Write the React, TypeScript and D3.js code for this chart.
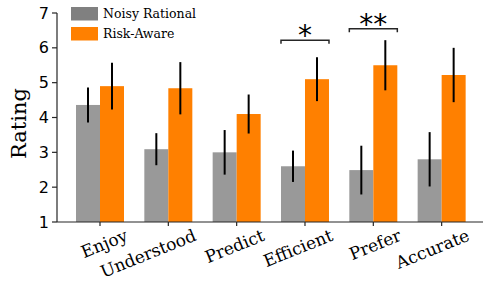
import React from "react";
import * as d3 from "d3";

const categories = ["Enjoy", "Understood", "Predict", "Efficient", "Prefer", "Accurate"];
const seriesNames = ["Noisy Rational", "Risk-Aware"];
const noisyMeans = [4.36, 3.09, 3.0, 2.6, 2.49, 2.8];
const noisyErr = [0.5, 0.46, 0.64, 0.45, 0.7, 0.78];
const riskMeans = [4.9, 4.84, 4.1, 5.1, 5.5, 5.22];
const riskErr = [0.67, 0.75, 0.56, 0.63, 0.72, 0.78];
const yTicks = [1, 2, 3, 4, 5, 6, 7];
const sigCats = ["Efficient", "Prefer"];
const sigLabels = ["*", "**"];
const sigLevels = [6.22, 6.55];

const W = 483;
const H = 288;
const colors = ["#999999", "#ff8000"];
const legendColors = ["#808080", "#ff8000"];
const serif = "'DejaVu Serif', serif";
const sans = "'DejaVu Sans', sans-serif";

export default function App() {
  const left = 57;
  const y = d3.scaleLinear().domain([1, 7]).range([222, 13]);
  const step = 68.33;
  const x = d3
    .scaleBand<string>()
    .domain(categories)
    .range([100 - step / 2, 100 - step / 2 + step * categories.length])
    .padding(0);
  const barW = 24;
  const series = [
    { means: noisyMeans, err: noisyErr },
    { means: riskMeans, err: riskErr },
  ];
  const axisColor = "#262626";

  return (
    <svg
      width={W}
      height={H}
      style={{ position: "absolute", left: 0, top: 0, background: "#fff" }}
    >
      {/* bars */}
      {series.map((s, si) =>
        categories.map((c, i) => {
          const cx = x(c)! + x.bandwidth() / 2;
          const bx = si === 0 ? cx - barW : cx;
          return (
            <g key={`${si}-${i}`}>
              <rect
                x={bx}
                y={y(s.means[i])}
                width={barW}
                height={y(1) - y(s.means[i])}
                fill={colors[si]}
              />
              <line
                x1={bx + barW / 2}
                x2={bx + barW / 2}
                y1={y(s.means[i] + s.err[i])}
                y2={y(s.means[i] - s.err[i])}
                stroke="#000"
                strokeWidth={2}
              />
            </g>
          );
        })
      )}

      {/* axes */}
      <line x1={left} x2={left} y1={y(7)} y2={y(1)} stroke={axisColor} strokeWidth={1.2} />
      <line x1={left} x2={W} y1={y(1)} y2={y(1)} stroke={axisColor} strokeWidth={1.2} />
      {yTicks.map((t) => (
        <g key={t}>
          <line x1={left - 5} x2={left} y1={y(t)} y2={y(t)} stroke={axisColor} strokeWidth={1.2} />
          <text
            x={left - 8}
            y={y(t)}
            textAnchor="end"
            dominantBaseline="central"
            fontFamily={sans}
            fontSize={16}
            fill="#000"
          >
            {t}
          </text>
        </g>
      ))}
      {categories.map((c) => {
        const cx = x(c)! + x.bandwidth() / 2;
        return (
          <g key={c}>
            <line x1={cx} x2={cx} y1={y(1)} y2={y(1) + 4} stroke={axisColor} strokeWidth={1.2} />
            <text
              transform={`translate(${cx + 29},240) rotate(-22)`}
              textAnchor="end"
              fontFamily={serif}
              fontSize={17}
              fill="#000"
            >
              {c}
            </text>
          </g>
        );
      })}

      {/* y label */}
      <text
        transform={`translate(25.5,${123.5}) rotate(-90)`}
        textAnchor="middle"
        fontFamily={serif}
        fontSize={21}
        fill="#000"
      >
        Rating
      </text>

      {/* significance */}
      {sigCats.map((c, i) => {
        const x0 = x(c)! + x.bandwidth() / 2 - barW;
        const x1 = x(c)! + x.bandwidth() / 2 + barW;
        const yy = y(sigLevels[i]);
        return (
          <g key={c}>
            <path
              d={`M${x0},${yy + 3.5}V${yy}H${x1}V${yy + 3.5}`}
              fill="none"
              stroke={axisColor}
              strokeWidth={1.5}
            />
            <text
              x={(x0 + x1) / 2}
              y={yy + 5}
              textAnchor="middle"
              fontFamily={sans}
              fontSize={28}
              fill="#000"
            >
              {sigLabels[i]}
            </text>
          </g>
        );
      })}

      {/* legend */}
      {seriesNames.map((n, i) => (
        <g key={n}>
          <rect x={71} y={7 + i * 20} width={27} height={13.5} fill={legendColors[i]} />
          <text x={103} y={17.5 + i * 20} fontFamily={serif} fontSize={12.5} fill="#000">
            {n}
          </text>
        </g>
      ))}
    </svg>
  );
}
